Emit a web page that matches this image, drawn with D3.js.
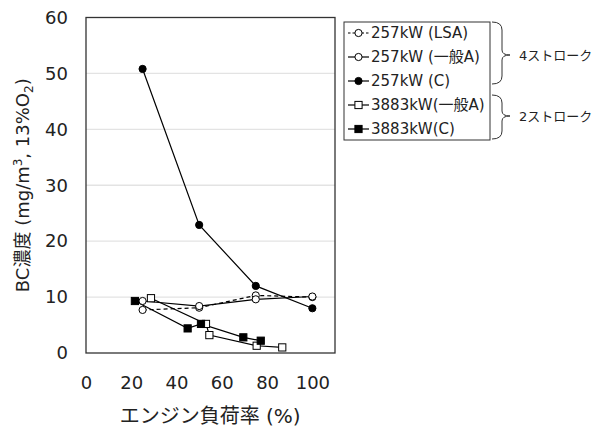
<!DOCTYPE html>
<html><head><meta charset="utf-8">
<script src="https://cdn.jsdelivr.net/npm/d3@7"></script>
<style>body{margin:0;background:#fff}svg{display:block}</style>
</head><body>
<svg id="c" width="596" height="428"></svg>
<script>
const xTicks = [0, 20, 40, 60, 80, 100];
const yTicks = [0, 10, 20, 30, 40, 50, 60];

const lsaX = [25, 50, 75, 100];
const lsaY = [7.7, 8.1, 10.3, 10.0];
const genAX = [25, 50, 75, 100];
const genAY = [9.3, 8.4, 9.6, 10.1];
const cX = [25, 50, 75, 100];
const cY = [50.8, 22.9, 12.0, 8.0];
const s2AX = [28.7, 53.0, 54.5, 75.4, 86.7];
const s2AY = [9.8, 5.2, 3.2, 1.3, 1.0];
const s2CX = [21.6, 44.9, 50.8, 69.5, 77.2];
const s2CY = [9.3, 4.4, 5.2, 2.8, 2.2];

const seriesNames = ["257kW (LSA)", "257kW (一般A)", "257kW (C)", "3883kW(一般A)", "3883kW(C)"];
const groupLabels = ["4ストローク", "2ストローク"];

const series = [
  {name: seriesNames[0], xs: lsaX, ys: lsaY, shape: "circle", fill: "#fff", dash: "4,3"},
  {name: seriesNames[1], xs: genAX, ys: genAY, shape: "circle", fill: "#fff", dash: null},
  {name: seriesNames[2], xs: cX, ys: cY, shape: "circle", fill: "#000", dash: null},
  {name: seriesNames[3], xs: s2AX, ys: s2AY, shape: "square", fill: "#fff", dash: null},
  {name: seriesNames[4], xs: s2CX, ys: s2CY, shape: "square", fill: "#000", dash: null}
];

const svg = d3.select("#c");
const font = "'DejaVu Sans','Noto Sans CJK JP',sans-serif";
const L = 86, R = 335, T = 17.5, B = 353;
const x = d3.scaleLinear().domain([0, 110]).range([L, R]);
const y = d3.scaleLinear().domain([0, 60]).range([B, T]);

// gridlines
svg.append("g").selectAll("line").data(yTicks.filter(d => d > 0 && d < 60)).join("line")
  .attr("x1", L).attr("x2", R).attr("y1", d => y(d)).attr("y2", d => y(d))
  .attr("stroke", "#e3e3e3").attr("stroke-width", 1.3);

// frame
svg.append("rect").attr("x", L).attr("y", T).attr("width", R - L).attr("height", B - T)
  .attr("fill", "none").attr("stroke", "#333").attr("stroke-width", 1.3);

// axes (labels only)
const yAxis = d3.axisLeft(y).tickValues(yTicks).tickSize(0).tickPadding(18);
const gy = svg.append("g").attr("transform", `translate(${L},0)`).call(yAxis);
gy.select(".domain").remove();
gy.selectAll("text").attr("font-family", font).attr("font-size", 18).attr("fill", "#222");

const xAxis = d3.axisBottom(x).tickValues(xTicks).tickSize(0).tickPadding(23);
const gx = svg.append("g").attr("transform", `translate(0,${B})`).call(xAxis);
gx.select(".domain").remove();
gx.selectAll("text").attr("font-family", font).attr("font-size", 18).attr("fill", "#222");

// axis titles
svg.append("text").attr("x", (x(0) + x(100)) / 2 + 11).attr("y", 423).attr("text-anchor", "middle")
  .attr("font-family", font).attr("font-size", 20).attr("fill", "#222").text("エンジン負荷率 (%)");

const yt = svg.append("text").attr("transform", `translate(29,${(T + B) / 2}) rotate(-90)`)
  .attr("text-anchor", "middle").attr("font-family", font).attr("font-size", 18).attr("fill", "#222");
yt.append("tspan").text("BC濃度 (mg/m");
yt.append("tspan").attr("font-size", 12).attr("dy", -7).text("3");
yt.append("tspan").attr("dy", 7).text(", 13%O");
yt.append("tspan").attr("font-size", 12).attr("dy", 4).text("2");
yt.append("tspan").attr("dy", -4).text(")");

const line = d3.line().x(d => x(d[0])).y(d => y(d[1]));

function marker(g, shape, fill, cx, cy) {
  if (shape === "circle") {
    g.append("circle").attr("cx", cx).attr("cy", cy).attr("r", 3.6)
      .attr("fill", fill).attr("stroke", "#000").attr("stroke-width", 1);
  } else {
    g.append("rect").attr("x", cx - 3.6).attr("y", cy - 3.6).attr("width", 7.2).attr("height", 7.2)
      .attr("fill", fill).attr("stroke", "#000").attr("stroke-width", 1);
  }
}

const plot = svg.append("g");
series.forEach(s => {
  const pts = s.xs.map((v, i) => [v, s.ys[i]]);
  plot.append("path").attr("d", line(pts)).attr("fill", "none").attr("stroke", "#000")
    .attr("stroke-width", 1.2).attr("stroke-dasharray", s.dash);
});
series.forEach(s => {
  s.xs.forEach((v, i) => marker(plot, s.shape, s.fill, x(v), y(s.ys[i])));
});

// legend
const lg = svg.append("g");
lg.append("rect").attr("x", 344).attr("y", 22).attr("width", 146).attr("height", 118)
  .attr("fill", "#fff").attr("stroke", "#333").attr("stroke-width", 1);
series.forEach((s, i) => {
  const cy = 33 + i * 24;
  lg.append("line").attr("x1", 348).attr("x2", 369).attr("y1", cy).attr("y2", cy)
    .attr("stroke", "#000").attr("stroke-width", 1.2).attr("stroke-dasharray", s.dash ? "2.5,2" : null);
  marker(lg, s.shape, s.fill, 358.5, cy);
  lg.append("text").attr("x", 371).attr("y", cy).attr("dy", "0.36em")
    .attr("font-family", font).attr("font-size", 15).attr("fill", "#222").text(s.name);
});

// braces
function brace(y0, y1, ym) {
  const xa = 492, xs = 502, xt = 510;
  const p = `M${xa},${y0} Q${xs},${y0} ${xs},${y0 + 8} L${xs},${ym - 5} Q${xs},${ym} ${xt},${ym}`
    + ` Q${xs},${ym} ${xs},${ym + 5} L${xs},${y1 - 8} Q${xs},${y1} ${xa},${y1}`;
  svg.append("path").attr("d", p).attr("fill", "none").attr("stroke", "#333").attr("stroke-width", 1);
}
brace(22, 84, 55);
brace(95, 139, 116);
svg.append("text").attr("x", 519).attr("y", 55).attr("dy", "0.36em").attr("font-family", font)
  .attr("font-size", 13).attr("fill", "#222").text(groupLabels[0]);
svg.append("text").attr("x", 519).attr("y", 116).attr("dy", "0.36em").attr("font-family", font)
  .attr("font-size", 13).attr("fill", "#222").text(groupLabels[1]);
</script>
</body></html>
